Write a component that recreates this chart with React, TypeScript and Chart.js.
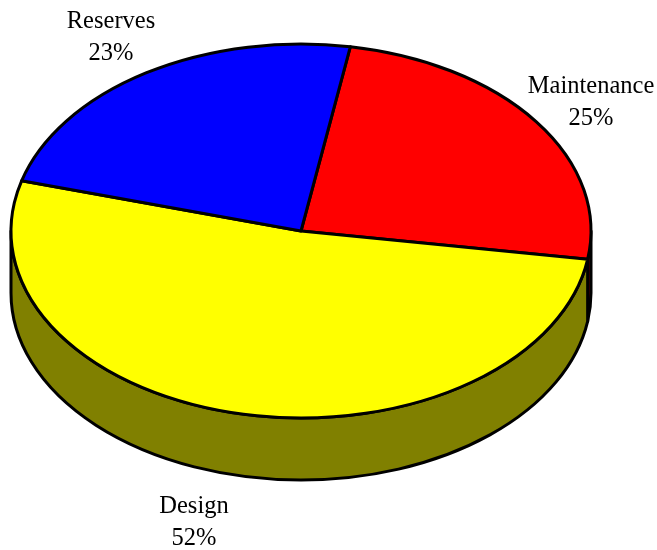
import React, { useEffect, useRef } from "react";
import { Chart, registerables } from "chart.js";

Chart.register(...registerables);

const categories = ["Maintenance", "Design", "Reserves"];
const shares = [24.7, 51.9, 23.4];
const topColors = ["#ff0000", "#ffff00", "#0000ff"];
const sideColors = ["#800000", "#808000", "#000080"];
const labelAnchors = [
  [591, 87],
  [194, 507],
  [111, 22],
];

const RX = 290;
const RY = 187;
const DEPTH = 62;
const LINE = 3;
const FONT = "24.5px 'Liberation Serif'";

const pie3d = {
  id: "pie3d",
  beforeDatasetsDraw(chart: any) {
    const ctx: CanvasRenderingContext2D = chart.ctx;
    const arcs = chart.getDatasetMeta(0).data;
    ctx.save();
    ctx.lineWidth = LINE;
    ctx.strokeStyle = "#000000";
    ctx.lineJoin = "round";
    const TAU = Math.PI * 2;

    // walls: only the part of each slice on the front half of the ellipse
    arcs.forEach((el: any, i: number) => {
      const { startAngle, endAngle, x, y } = el.getProps(["startAngle", "endAngle", "x", "y"], true);
      for (const k of [-1, 0, 1]) {
        const a0 = Math.max(startAngle + k * TAU, 0);
        const a1 = Math.min(endAngle + k * TAU, Math.PI);
        if (a1 <= a0) continue;
        ctx.beginPath();
        ctx.ellipse(x, y, RX, RY, 0, a0, a1);
        ctx.ellipse(x, y + DEPTH, RX, RY, 0, a1, a0, true);
        ctx.closePath();
        ctx.fillStyle = sideColors[i];
        ctx.fill();
        ctx.stroke();
      }
    });

    // top faces
    arcs.forEach((el: any) => {
      const { startAngle, endAngle, x, y } = el.getProps(["startAngle", "endAngle", "x", "y"], true);
      ctx.beginPath();
      ctx.moveTo(x, y);
      ctx.ellipse(x, y, RX, RY, 0, startAngle, endAngle);
      ctx.closePath();
      ctx.fillStyle = el.options.backgroundColor;
      ctx.fill();
      ctx.stroke();
    });

    // two-line labels
    ctx.fillStyle = "#000000";
    ctx.font = FONT;
    ctx.textAlign = "center";
    ctx.textBaseline = "middle";
    categories.forEach((name, i) => {
      const [lx, ly] = labelAnchors[i];
      ctx.fillText(name, lx, ly);
      ctx.fillText(`${Math.round(shares[i])}%`, lx, ly + 32);
    });
    ctx.restore();
    return false;
  },
};

export default function App() {
  const ref = useRef<HTMLCanvasElement>(null);
  useEffect(() => {
    document.body.style.margin = "0";
    document.body.style.background = "#ffffff";
    const chart = new Chart(ref.current!, {
      type: "pie",
      data: {
        labels: categories,
        datasets: [{ data: shares, backgroundColor: topColors, borderWidth: 0 }],
      },
      options: {
        responsive: false,
        animation: false,
        rotation: 9.8,
        layout: { padding: { left: 0, right: 55, top: 0, bottom: 88 } },
        plugins: { legend: { display: false }, tooltip: { enabled: false } },
      },
      plugins: [pie3d],
    } as any);
    return () => chart.destroy();
  }, []);
  return <canvas ref={ref} width={657} height={550} style={{ display: "block" }} />;
}
